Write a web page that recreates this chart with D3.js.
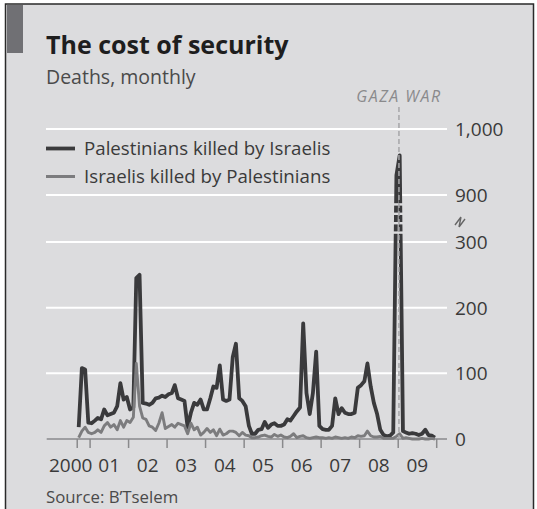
<!DOCTYPE html>
<html><head><meta charset="utf-8">
<script src="https://cdn.jsdelivr.net/npm/d3@7"></script>
<style>
body{margin:0;background:#fff}
text{font-family:"Open Sans","Noto Sans",sans-serif}
</style>
</head><body>
<svg id="c" width="537" height="509"></svg>
<script>
// ---- data (monthly, starting September 2000) ----
const startYear = 2000, startMonthIndex = 8; // September
const palestinians = [
  18,108,106,25,
  24,28,32,30,45,36,38,40,50,85,60,64,
  45,48,245,250,55,54,52,55,62,63,66,64,
  68,70,82,62,60,58,18,40,55,52,60,45,
  45,62,80,78,112,60,58,60,125,145,62,58,
  50,20,8,8,14,15,26,17,22,24,20,20,
  22,30,28,35,42,48,176,70,38,70,133,20,
  15,14,14,20,62,38,47,40,38,38,40,78,
  82,88,115,80,55,38,14,6,4,5,10,930,
  960,12,10,8,9,8,6,8,14,6,5,2
];
const israelis = [
  2,12,18,10,
  8,10,14,10,20,25,18,22,14,28,18,28,
  25,33,115,50,32,30,20,18,13,24,40,16,
  19,22,18,24,22,20,8,24,14,18,6,10,
  16,10,14,5,15,6,8,12,12,10,5,10,
  6,5,2,2,3,5,6,4,3,7,4,6,
  3,2,4,8,2,4,5,2,1,2,3,2,
  2,1,2,1,3,2,1,2,1,3,2,5,
  4,5,12,5,3,3,4,1,1,1,1,4,
  8,1,2,1,0,0,0,1,0,0,1,0
];
const yTicks = [0,100,200,300,900,1000];
const yTickLabels = ["0","100","200","300","900","1,000"];
const years = [2000,2001,2002,2003,2004,2005,2006,2007,2008,2009];
const yearLabels = ["2000","01","02","03","04","05","06","07","08","09"];
const seriesNames = ["Palestinians killed by Israelis","Israelis killed by Palestinians"];
const gazaWarDate = new Date(2009,0,8);
const gazaWarLabel = "GAZA WAR";

// ---- layout ----
const svg = d3.select("#c");
const bg = "#dcdcde";
const darkC = "#3a3a3c", lightC = "#7c7c7e";

svg.append("rect").attr("x",5.5).attr("y",4).attr("width",528).attr("height",530)
  .attr("fill",bg).attr("stroke","#2a2a2a").attr("stroke-width",1.5);
svg.append("rect").attr("x",7).attr("y",5).attr("width",16).attr("height",48).attr("fill","#707074");

svg.append("text").attr("x",46).attr("y",54).attr("font-size",25).attr("font-weight",700)
  .attr("fill","#1e1e1e").text("The cost of security");
svg.append("text").attr("x",46).attr("y",84).attr("font-size",19.5).attr("fill","#4a4a4a")
  .text("Deaths, monthly");

const x = d3.scaleTime().domain([new Date(2000,0,1), new Date(2010,0,1)]).range([51.5,436.7]);
const y = d3.scaleLinear().domain([0,300,900,1000]).range([439,242,195,129]);

const months = palestinians.map((_,i)=>new Date(startYear, startMonthIndex+i, 15));

// gridlines
svg.append("g").selectAll("line").data(yTicks.filter(d=>d>0)).join("line")
  .attr("x1",46).attr("x2",447).attr("y1",d=>y(d)).attr("y2",d=>y(d))
  .attr("stroke","#ffffff").attr("stroke-width",2);

// y labels
svg.append("g").selectAll("text").data(yTicks).join("text")
  .attr("x",455).attr("y",d=>y(d)).attr("dy","0.36em").attr("font-size",19).attr("fill","#3a3a3a")
  .text((d,i)=>yTickLabels[i]);

// axis break symbol
svg.append("path").attr("d","M455,225 L461,217 M459,227 L465,219 M461,217 L459,227")
  .attr("stroke","#666").attr("stroke-width",1.4).attr("fill","none");

// x axis line and ticks
svg.append("line").attr("x1",46.7).attr("x2",447).attr("y1",y(0)).attr("y2",y(0))
  .attr("stroke","#8a8a8c").attr("stroke-width",1.5);
const tickDates = [new Date(2000,8,1)].concat(years.map(v=>new Date(v+1,0,1)));
svg.append("g").selectAll("line").data(tickDates).join("line")
  .attr("x1",d=>x(d)).attr("x2",d=>x(d)).attr("y1",y(0)).attr("y2",y(0)+9)
  .attr("stroke","#8a8a8c").attr("stroke-width",1.5);
svg.append("g").selectAll("text").data(years).join("text")
  .attr("x",d=>x(new Date(d,6,1))).attr("y",472).attr("text-anchor","middle")
  .attr("font-size",19).attr("fill","#3a3a3a").text((d,i)=>yearLabels[i]);

// lines
const line = d3.line().x((d,i)=>x(months[i])).y(d=>y(d)).curve(d3.curveLinear);
svg.append("path").datum(palestinians).attr("d",line).attr("fill","none")
  .attr("stroke",darkC).attr("stroke-width",3.8).attr("stroke-linejoin","round");
svg.append("path").datum(israelis).attr("d",line).attr("fill","none")
  .attr("stroke",lightC).attr("stroke-width",2.9).attr("stroke-linejoin","round");

// break gaps across the spike
const spikeX = x(new Date(2009,0,1));
const yb1 = y(900), yb2 = y(300);
const gaps = d3.range(4).map(i=> yb1 + (i+1)*(yb2-yb1)/5);
svg.append("g").selectAll("rect").data(gaps).join("rect")
  .attr("x",spikeX-9).attr("width",18).attr("y",d=>d-1.2).attr("height",2.4).attr("fill",bg);

// Gaza war marker
svg.append("line").attr("x1",x(gazaWarDate)).attr("x2",x(gazaWarDate)).attr("y1",107).attr("y2",y(0))
  .attr("stroke","#a6a6a8").attr("stroke-width",1.5).attr("stroke-dasharray","5,3");
svg.append("text").attr("x",x(gazaWarDate)).attr("y",102).attr("text-anchor","middle")
  .attr("font-size",16).attr("font-style","italic").attr("letter-spacing",1.5).attr("fill","#8a8a8c")
  .text(gazaWarLabel);

// legend
const legY = [148.5,176.5];
const legC = [darkC, lightC], legW=[3.8,3];
seriesNames.forEach((n,i)=>{
  svg.append("line").attr("x1",46).attr("x2",75).attr("y1",legY[i]).attr("y2",legY[i])
    .attr("stroke",legC[i]).attr("stroke-width",legW[i]);
  svg.append("text").attr("x",84).attr("y",legY[i]).attr("dy","0.34em").attr("font-size",18.7)
    .attr("fill","#3a3a3a").text(n);
});

// source
svg.append("text").attr("x",46).attr("y",503).attr("font-size",16.8).attr("fill","#4a4a4a")
  .text("Source: B\u2019Tselem");
</script>
</body></html>
